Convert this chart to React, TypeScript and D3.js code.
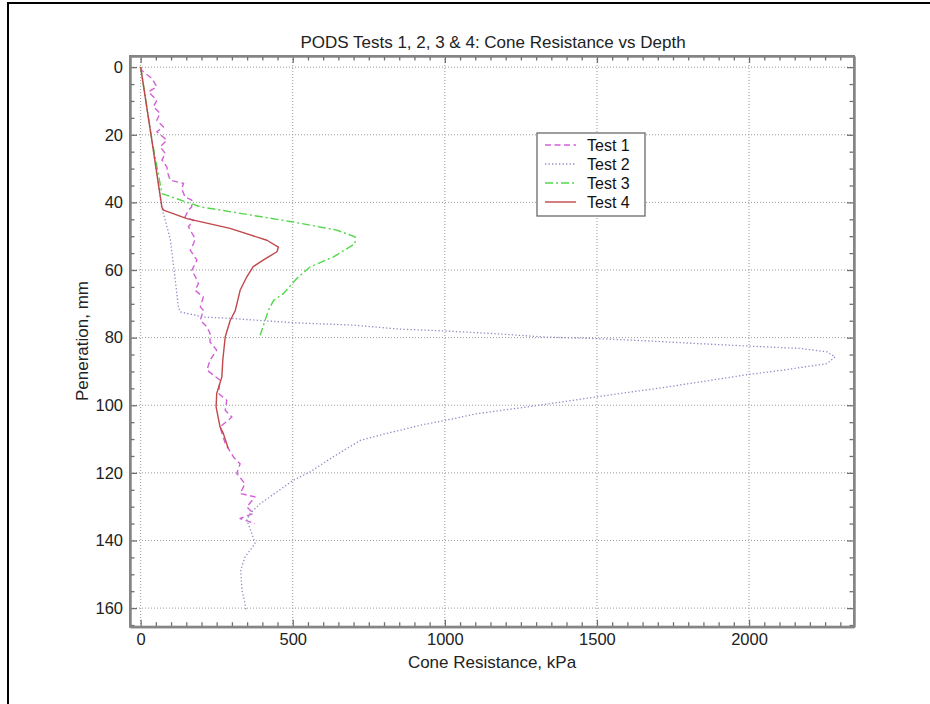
import React, { useEffect, useRef } from "react";
import * as d3 from "d3";

// ---- Data (depth in mm, cone resistance in kPa) ----
const test1Depth = [0, 1, 2.9, 3.3, 5.8, 7.3, 9.8, 11.7, 13.7, 15.7, 17.7, 19.1, 21.6, 23.6, 25.5, 27.5, 29.5, 31.5, 33.4, 34.4, 36, 38.4, 39.3, 41.3, 42.3, 44.3, 45.3, 47.2, 48.2, 50.7, 52.2, 54.1, 57.1, 60.1, 62, 64, 66, 68, 70.9, 71.9, 74.9, 76.8, 78.8, 81.3, 83.7, 86.7, 89.6, 92.6, 96.5, 98.5, 101.5, 103.5, 106.4, 111.3, 115.3, 117.3, 120.2, 123.2, 126.1, 127.1, 130.1, 132, 133.5, 135];
const test1Kpa = [0, 4, 31, 37, 53, 26, 53, 42, 64, 53, 75, 53, 86, 64, 81, 70, 86, 90, 97, 141, 135, 146, 168, 168, 157, 146, 174, 157, 163, 179, 174, 163, 185, 168, 180, 190, 179, 206, 196, 206, 196, 218, 228, 228, 250, 228, 218, 261, 256, 283, 278, 300, 261, 278, 305, 327, 316, 343, 327, 376, 349, 371, 327, 376];

const test2Depth = [0, 20, 41, 50.7, 60, 70.9, 72.4, 73.9, 74.3, 75.6, 76.3, 77.5, 78, 78.8, 79.8, 80.3, 81, 81.8, 82.5, 83.2, 84.2, 85.7, 87.7, 89.6, 90.9, 94.6, 97.5, 100.5, 102.5, 104.6, 105.9, 107.4, 108.3, 110.4, 115.2, 119.7, 122.2, 125.6, 129.1, 132, 134, 138, 140.9, 144.9, 148.8, 154.7, 158.7, 161];
const test2Kpa = [0, 35, 68, 97, 110, 124, 130, 206, 294, 502, 700, 853, 995, 1160, 1324, 1500, 1675, 1839, 1998, 2168, 2256, 2283, 2256, 2113, 1998, 1730, 1500, 1270, 1105, 995, 919, 853, 809, 722, 634, 557, 502, 448, 393, 360, 349, 366, 376, 343, 329, 333, 343, 347];

const test3Depth = [0, 20, 37.4, 41.3, 45.8, 48.2, 50.2, 52.2, 56.1, 59.1, 62.5, 67, 69, 71.9, 74.9, 79.3];
const test3Kpa = [0, 34, 70, 196, 502, 645, 705, 705, 634, 557, 513, 469, 437, 420, 409, 393];

const test4Depth = [0, 20, 41.5, 42.3, 44.8, 47.7, 51.2, 53.2, 54.6, 57, 59, 62, 66, 72, 75, 79.8, 86.7, 91.6, 96.5, 100.5, 106.4, 108.4, 112.8];
const test4Kpa = [0, 34, 70, 75, 152, 294, 415, 453, 448, 404, 370, 349, 327, 311, 294, 278, 270, 267, 250, 248, 261, 272, 288];

const seriesNames = ["Test 1", "Test 2", "Test 3", "Test 4"];
const xMajorTicks = [0, 500, 1000, 1500, 2000];
const yMajorTicks = [0, 20, 40, 60, 80, 100, 120, 140, 160];

const titleText = "PODS Tests 1, 2, 3 & 4: Cone Resistance vs Depth";
const xLabelText = "Cone Resistance, kPa";
const yLabelText = "Peneration, mm";

const FONT = "'Liberation Sans', Arial, Helvetica, sans-serif";

export default function App() {
  const ref = useRef<SVGSVGElement>(null);

  useEffect(() => {
    const svg = d3.select(ref.current);
    svg.selectAll("*").remove();

    const left = 130, right = 854, top = 56, bottom = 626.7;
    const x = d3.scaleLinear().domain([-35, 2345]).range([left, right]);
    const y = d3.scaleLinear().domain([-3.3, 165.5]).range([top, bottom]);

    const xMinor = d3.range(0, 2345, 50).filter((v) => !xMajorTicks.includes(v));
    const yMinor = d3.range(0, 165.5, 5).filter((v) => !yMajorTicks.includes(v));

    svg.append("rect").attr("width", 930).attr("height", 704).attr("fill", "#fff");
    // outer figure frame
    svg.append("rect").attr("x", 8).attr("y", 3).attr("width", 960).attr("height", 760)
      .attr("fill", "none").attr("stroke", "#000").attr("stroke-width", 2);

    // grid
    const grid = svg.append("g");
    xMajorTicks.forEach((v) => {
      grid.append("line").attr("x1", x(v)).attr("x2", x(v)).attr("y1", top).attr("y2", bottom)
        .attr("stroke", "#9a9a9a").attr("stroke-width", 1).attr("stroke-dasharray", "1,2");
    });
    yMajorTicks.forEach((v) => {
      grid.append("line").attr("x1", left).attr("x2", right).attr("y1", y(v)).attr("y2", y(v))
        .attr("stroke", "#9a9a9a").attr("stroke-width", 1).attr("stroke-dasharray", "1,2");
    });

    const series = [
      { depth: test1Depth, kpa: test1Kpa, color: "#d35fd8", dash: "6,3.5", width: 1.4 },
      { depth: test2Depth, kpa: test2Kpa, color: "#8c8cc4", dash: "1.3,2.2", width: 1.3 },
      { depth: test3Depth, kpa: test3Kpa, color: "#52d84a", dash: "8,3,2,3", width: 1.4 },
      { depth: test4Depth, kpa: test4Kpa, color: "#c0474a", dash: null as string | null, width: 1.4 },
    ];

    const line = d3.line<[number, number]>().x((d) => x(d[0])).y((d) => y(d[1]));
    const plotG = svg.append("g");
    series.forEach((s) => {
      const pts = s.depth.map((dd, i) => [s.kpa[i], dd] as [number, number]);
      const p = plotG.append("path").attr("d", line(pts)).attr("fill", "none")
        .attr("stroke", s.color).attr("stroke-width", s.width).attr("stroke-linejoin", "round");
      if (s.dash) p.attr("stroke-dasharray", s.dash);
    });

    // axes
    const styleAxis = (g: any) => {
      g.select(".domain").attr("stroke", "#858585").attr("stroke-width", 2);
      g.selectAll(".tick line").attr("stroke", "#707070").attr("stroke-width", 1.3);
      g.selectAll(".tick text").attr("fill", "#222").attr("font-family", FONT).attr("font-size", 16.5);
    };

    const bottomMajor = svg.append("g").attr("transform", `translate(0,${bottom})`)
      .call(d3.axisBottom(x).tickValues(xMajorTicks).tickSize(-7).tickSizeOuter(0).tickPadding(7).tickFormat(d3.format("d")));
    styleAxis(bottomMajor);
    const bottomMinor = svg.append("g").attr("transform", `translate(0,${bottom})`)
      .call(d3.axisBottom(x).tickValues(xMinor).tickSize(-4.5).tickSizeOuter(0).tickFormat(() => ""));
    styleAxis(bottomMinor);

    const topMajor = svg.append("g").attr("transform", `translate(0,${top})`)
      .call(d3.axisTop(x).tickValues(xMajorTicks).tickSize(-7).tickSizeOuter(0).tickFormat(() => ""));
    styleAxis(topMajor);
    const topMinor = svg.append("g").attr("transform", `translate(0,${top})`)
      .call(d3.axisTop(x).tickValues(xMinor).tickSize(-4.5).tickSizeOuter(0).tickFormat(() => ""));
    styleAxis(topMinor);

    const leftMajor = svg.append("g").attr("transform", `translate(${left},0)`)
      .call(d3.axisLeft(y).tickValues(yMajorTicks).tickSize(-7).tickSizeOuter(0).tickPadding(7).tickFormat(d3.format("d")));
    styleAxis(leftMajor);
    const leftMinor = svg.append("g").attr("transform", `translate(${left},0)`)
      .call(d3.axisLeft(y).tickValues(yMinor).tickSize(-4.5).tickSizeOuter(0).tickFormat(() => ""));
    styleAxis(leftMinor);

    const rightMajor = svg.append("g").attr("transform", `translate(${right},0)`)
      .call(d3.axisRight(y).tickValues(yMajorTicks).tickSize(-7).tickSizeOuter(0).tickFormat(() => ""));
    styleAxis(rightMajor);
    const rightMinor = svg.append("g").attr("transform", `translate(${right},0)`)
      .call(d3.axisRight(y).tickValues(yMinor).tickSize(-4.5).tickSizeOuter(0).tickFormat(() => ""));
    styleAxis(rightMinor);

    // frame
    svg.append("rect").attr("x", left).attr("y", top).attr("width", right - left).attr("height", bottom - top)
      .attr("fill", "none").attr("stroke", "#858585").attr("stroke-width", 2);

    // titles
    svg.append("text").attr("x", (left + right) / 2 + 1).attr("y", 48).attr("text-anchor", "middle")
      .attr("font-family", FONT).attr("font-size", 17).attr("fill", "#222").text(titleText);
    svg.append("text").attr("x", (left + right) / 2).attr("y", 668).attr("text-anchor", "middle")
      .attr("font-family", FONT).attr("font-size", 17).attr("fill", "#222").text(xLabelText);
    svg.append("text").attr("transform", `translate(88,341) rotate(-90)`).attr("text-anchor", "middle")
      .attr("font-family", FONT).attr("font-size", 17).attr("fill", "#222").text(yLabelText);

    // legend
    const lg = svg.append("g");
    lg.append("rect").attr("x", 537).attr("y", 133).attr("width", 108).attr("height", 83)
      .attr("fill", "#fff").attr("stroke", "#6a6a6a").attr("stroke-width", 1.3);
    seriesNames.forEach((name, i) => {
      const s = series[i];
      const cy = 145 + i * 19;
      const l = lg.append("line").attr("x1", 545).attr("x2", 576).attr("y1", cy).attr("y2", cy)
        .attr("stroke", s.color).attr("stroke-width", s.width);
      if (s.dash) l.attr("stroke-dasharray", s.dash);
      lg.append("text").attr("x", 587).attr("y", cy).attr("dy", "0.36em")
        .attr("font-family", FONT).attr("font-size", 16).attr("fill", "#111").text(name);
    });
  }, []);

  return (
    <div style={{ position: "absolute", left: 0, top: 0 }}>
      <svg ref={ref} width={930} height={704} style={{ display: "block" }} />
    </div>
  );
}
